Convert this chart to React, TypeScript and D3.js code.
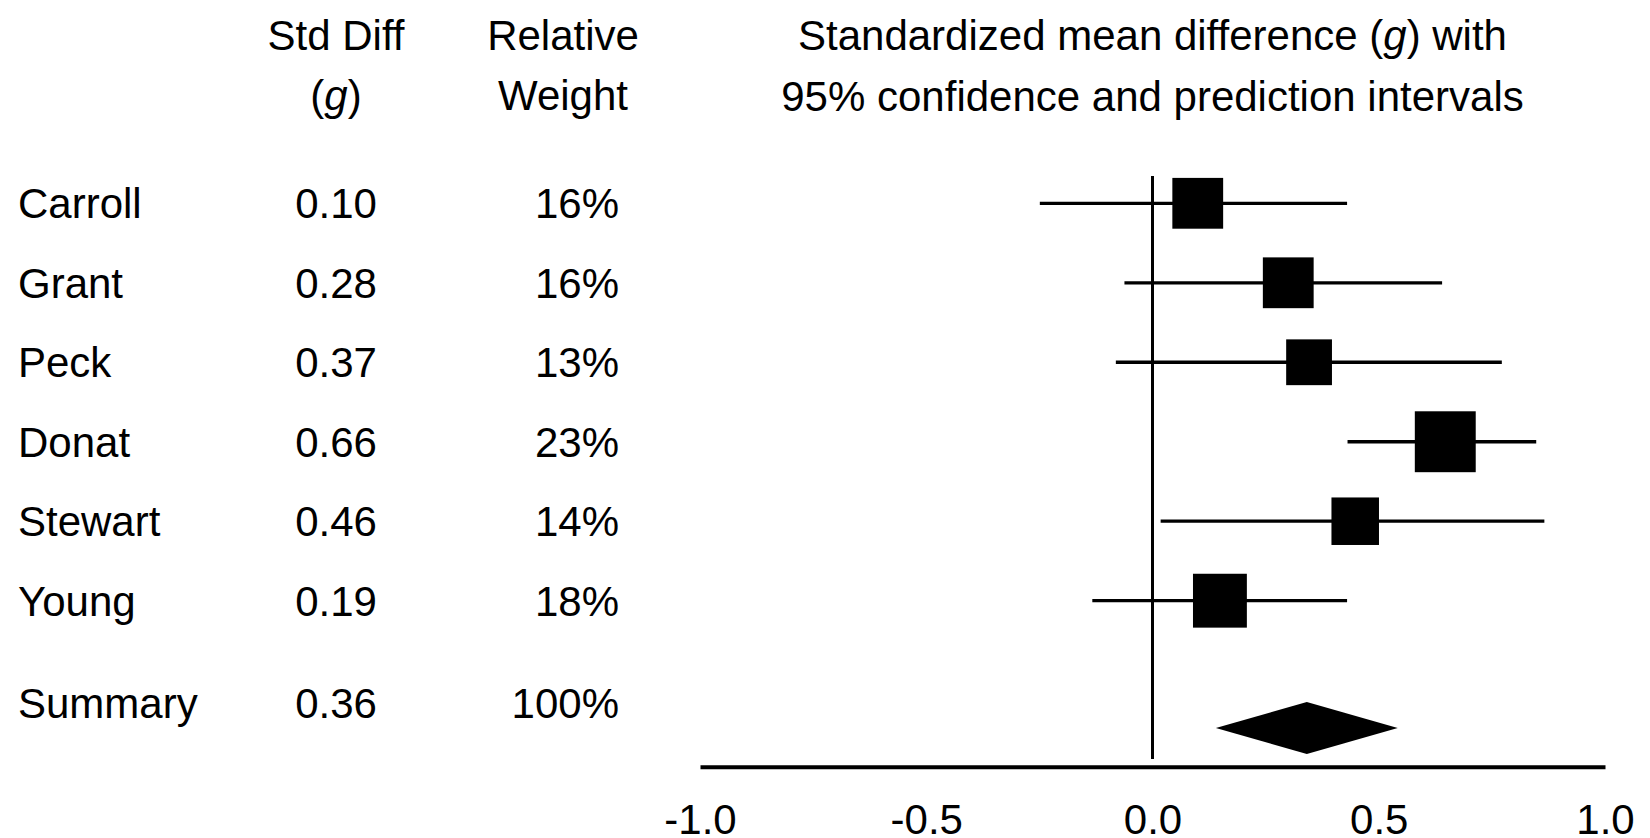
import * as d3 from 'd3';
import { useEffect, useRef } from 'react';

// study rows, top to bottom
const studies = ['Carroll', 'Grant', 'Peck', 'Donat', 'Stewart', 'Young'];
const stdDiff = [0.10, 0.28, 0.37, 0.66, 0.46, 0.19];
const weights = [16, 16, 13, 23, 14, 18];
// where the marks sit on the plot
const pointEst = [0.10, 0.30, 0.346, 0.647, 0.448, 0.149];
const ciLow = [-0.249, -0.062, -0.081, 0.431, 0.018, -0.133];
const ciHigh = [0.430, 0.640, 0.772, 0.848, 0.866, 0.430];

// summary row
const summaryLabel = 'Summary';
const summaryStdDiff = 0.36;
const summaryWeight = 100;
const summaryEst = 0.341;
const summaryLow = 0.140;
const summaryHigh = 0.542;

const tickValues = [-1.0, -0.5, 0.0, 0.5, 1.0];
const tickLabels = ['-1.0', '-0.5', '0.0', '0.5', '1.0'];

function App() {
  const svgRef = useRef<SVGSVGElement>(null);

  useEffect(() => {
    document.body.style.margin = '0';

    const w = 1650;
    const h = 838;
    const font = "'Liberation Sans', Arial, sans-serif";
    const fs = 42;

    const svg = d3.select(svgRef.current);
    svg.selectAll('*').remove();
    svg.attr('width', w).attr('height', h).style('background', '#fff');

    // scales
    const x = d3.scaleLinear().domain([-1, 1]).range([700, 1605]);
    const y = d3.scaleLinear().domain([0, studies.length - 1]).range([203.3, 600.7]);
    const boxSide = d3.scaleSqrt().domain([0, 25]).range([0, 63.5]);

    const summaryTextY = 703;
    const summaryMarkY = 728;
    const axisY = 766.7;
    const capHalf = 15; // half cap height, to center text on a row

    const nameX = 18;
    const diffX = 336;
    const weightX = 619;
    const weightHeadX = 563;

    const fmt2 = d3.format('.2f');

    const txt = (g: any) => g.attr('font-family', font).attr('font-size', fs).attr('fill', '#000');

    // column headers
    const head = svg.append('g').call(txt).attr('text-anchor', 'middle');
    head.append('text').attr('x', diffX).attr('y', 50).text('Std Diff');
    const g1 = head.append('text').attr('x', diffX).attr('y', 110);
    g1.append('tspan').text('(');
    g1.append('tspan').attr('font-style', 'italic').text('g');
    g1.append('tspan').text(')');
    head.append('text').attr('x', weightHeadX).attr('y', 50).text('Relative');
    head.append('text').attr('x', weightHeadX).attr('y', 110).text('Weight');

    const midX = (x(-1) + x(1)) / 2;
    const t1 = head.append('text').attr('x', midX).attr('y', 50);
    t1.append('tspan').text('Standardized mean difference (');
    t1.append('tspan').attr('font-style', 'italic').text('g');
    t1.append('tspan').text(') with');
    head.append('text').attr('x', midX).attr('y', 111).text('95% confidence and prediction intervals');

    // table columns
    const rows = svg.append('g').call(txt);
    rows.selectAll('.name')
      .data(studies)
      .enter().append('text')
      .attr('class', 'name')
      .attr('x', nameX)
      .attr('y', (d, i) => y(i) + capHalf)
      .text(d => d);
    rows.selectAll('.diff')
      .data(stdDiff)
      .enter().append('text')
      .attr('class', 'diff')
      .attr('x', diffX)
      .attr('y', (d, i) => y(i) + capHalf)
      .attr('text-anchor', 'middle')
      .text(d => fmt2(d));
    rows.selectAll('.wt')
      .data(weights)
      .enter().append('text')
      .attr('class', 'wt')
      .attr('x', weightX)
      .attr('y', (d, i) => y(i) + capHalf)
      .attr('text-anchor', 'end')
      .text(d => d + '%');

    rows.append('text').attr('x', nameX).attr('y', summaryTextY + capHalf).text(summaryLabel);
    rows.append('text').attr('x', diffX).attr('y', summaryTextY + capHalf)
      .attr('text-anchor', 'middle').text(fmt2(summaryStdDiff));
    rows.append('text').attr('x', weightX).attr('y', summaryTextY + capHalf)
      .attr('text-anchor', 'end').text(summaryWeight + '%');

    // zero line
    svg.append('line')
      .attr('x1', x(0)).attr('x2', x(0))
      .attr('y1', 176).attr('y2', 759)
      .attr('stroke', '#000').attr('stroke-width', 3);

    // confidence intervals
    const plot = svg.append('g');
    plot.selectAll('.ci')
      .data(studies)
      .enter().append('line')
      .attr('class', 'ci')
      .attr('x1', (d, i) => x(ciLow[i]))
      .attr('x2', (d, i) => x(ciHigh[i]))
      .attr('y1', (d, i) => y(i))
      .attr('y2', (d, i) => y(i))
      .attr('stroke', '#000')
      .attr('stroke-width', 3.3);

    // weight boxes
    plot.selectAll('.box')
      .data(studies)
      .enter().append('rect')
      .attr('class', 'box')
      .attr('x', (d, i) => x(pointEst[i]) - boxSide(weights[i]) / 2)
      .attr('y', (d, i) => y(i) - boxSide(weights[i]) / 2)
      .attr('width', (d, i) => boxSide(weights[i]))
      .attr('height', (d, i) => boxSide(weights[i]))
      .attr('fill', '#000');

    // summary diamond
    const dh = 26;
    const diamond = d3.path();
    diamond.moveTo(x(summaryLow), summaryMarkY);
    diamond.lineTo(x(summaryEst), summaryMarkY - dh);
    diamond.lineTo(x(summaryHigh), summaryMarkY);
    diamond.lineTo(x(summaryEst), summaryMarkY + dh);
    diamond.closePath();
    plot.append('path').attr('d', diamond.toString()).attr('fill', '#000');

    // x axis
    const xAxis = d3.axisBottom(x)
      .tickValues(tickValues)
      .tickFormat((d, i) => tickLabels[i])
      .tickSize(0)
      .tickSizeOuter(0)
      .tickPadding(37);
    const ax = svg.append('g')
      .attr('transform', `translate(0, ${axisY})`)
      .call(xAxis);
    ax.select('.domain').attr('stroke', '#000').attr('stroke-width', 4);
    ax.selectAll('text')
      .attr('font-family', font)
      .attr('font-size', fs)
      .attr('fill', '#000');
  }, []);

  return (
    <div>
      <svg ref={svgRef}></svg>
    </div>
  );
}

export default App;
